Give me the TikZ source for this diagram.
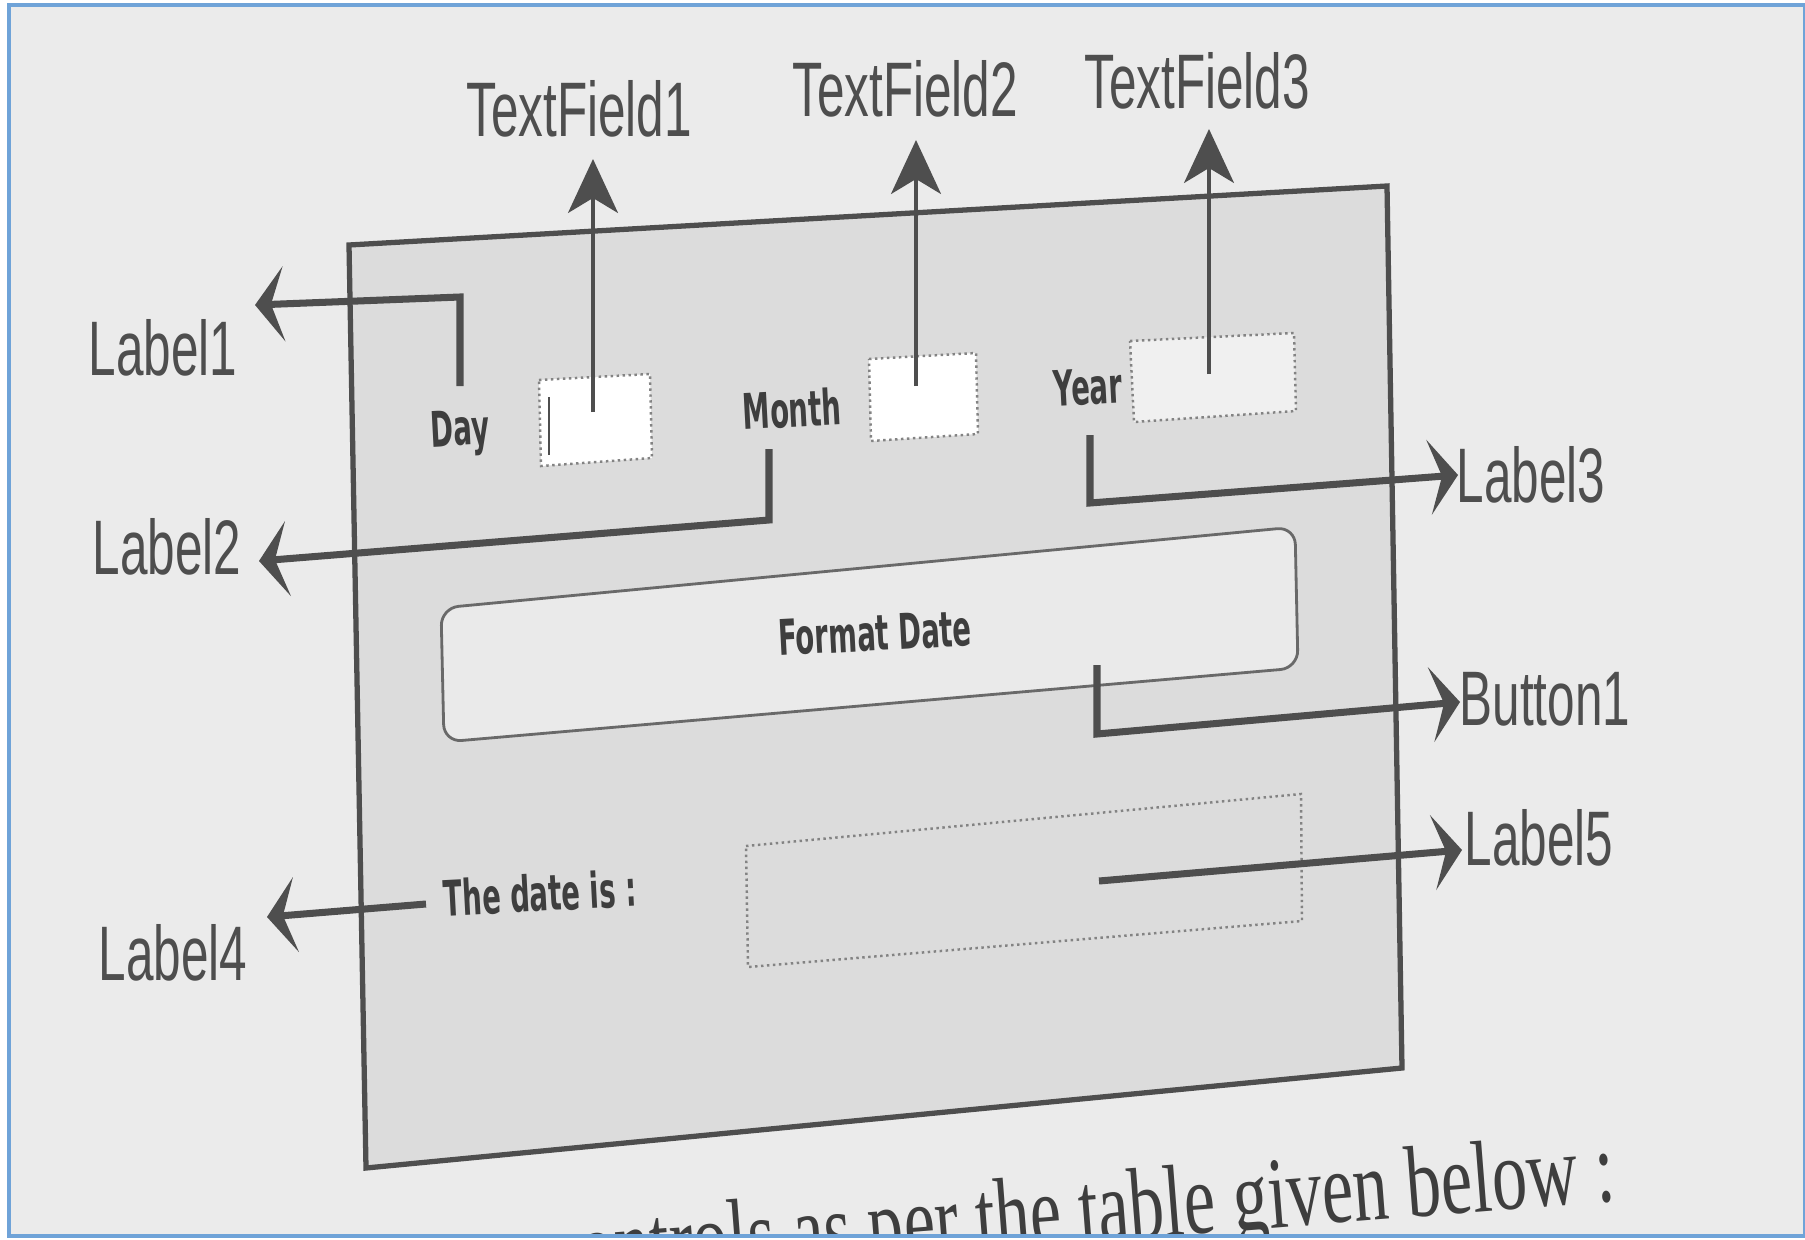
\documentclass[tikz,border=0pt]{standalone}
\usepackage{fontspec}
\usetikzlibrary{arrows.meta}

\newfontfamily\calloutfont[FakeStretch=0.64]{Liberation Sans}
\newfontfamily\formfont[FakeStretch=0.56]{DejaVu Sans}
\newfontfamily\bookfont[FakeStretch=0.69]{Liberation Serif}

\definecolor{paper}{HTML}{EBEBEB}
\definecolor{formgray}{HTML}{DCDCDC}
\definecolor{ink}{HTML}{4E4E4E}
\definecolor{edgeblue}{HTML}{6FA3D8}

\begin{document}
\begin{tikzpicture}[
    x=0.1mm,
    y=-0.1mm,
    callout/.style={font=\calloutfont\fontsize{22}{24}\selectfont, text=ink, inner sep=0pt},
    formtext/.style={font=\formfont\bfseries\fontsize{14}{16}\selectfont, text=ink!80!black, inner sep=0pt, rotate=3},
    field/.style={draw=ink!70, densely dotted, line width=0.7pt},
    bigarrow/.style={ink, line width=2pt, -{Stealth[length=2.9mm, width=7.5mm, inset=1.3mm]}},
    uparrow/.style={ink, line width=0.9pt, -{Stealth[length=5.4mm, width=5mm, inset=1.5mm]}}
]

% Page
\useasboundingbox[fill=white] (0,0) rectangle (1805,1240);
\fill[paper] (9,5) rectangle (1805,1236);
\begin{scope}
\clip (9,5) rectangle (1805,1236);

% Form window
\draw[ink, line width=1.5pt, fill=formgray] (349,245) -- (1387,186) -- (1402,1068) -- (366,1168) -- cycle;

% Text fields
\draw[field, fill=white] (539,380) -- (650,374) -- (652,458) -- (541,466) -- cycle;
\draw[ink, line width=0.8pt] (549,397) -- (549,455);
\draw[field, fill=white] (869,359) -- (976,353) -- (978,434) -- (871,441) -- cycle;
\draw[field, fill=white!94!black] (1130,341) -- (1294,333) -- (1296,411) -- (1134,422) -- cycle;

% Button
\draw[ink!85, line width=0.8pt, fill=formgray!60!white, rounded corners=5pt] (441,608) -- (1295,527) -- (1298,668) -- (444,742) -- cycle;

% Output area
\draw[field] (746,846) -- (1301,794) -- (1302,921) -- (748,967) -- cycle;

% Form texts
\node[formtext] (day) at (460,433) {Day};
\node[formtext] (month) at (792,409) {Month};
\node[formtext] (year) at (1088,387) {Year};
\node[formtext] (fmtdate) at (875,633) {Format Date};
\node[formtext, anchor=west] (dateis) at (443,898) {The date is :};

% Callouts
\node[callout] (label1) at (163,348) {Label1};
\node[callout] (label2) at (167,547) {Label2};
\node[callout] (label3) at (1531,475) {Label3};
\node[callout] (button1) at (1545,699) {Button1};
\node[callout] (label4) at (173,953) {Label4};
\node[callout] (label5) at (1539,838) {Label5};
\node[callout] (tfield1) at (579,109) {TextField1};
\node[callout] (tfield2) at (905,89) {TextField2};
\node[callout] (tfield3) at (1197,81) {TextField3};

% Arrow tips
\coordinate (tip1) at (255,305);
\coordinate (tip2) at (259,561);
\coordinate (tip3) at (1458,475);
\coordinate (tipb) at (1460,702);
\coordinate (tip4) at (267,917);
\coordinate (tip5) at (1462,850);
\coordinate (tiptf1) at (593,159);
\coordinate (tiptf2) at (916,140);
\coordinate (tiptf3) at (1209,129);

% Arrows
\draw[bigarrow] (460,386) -- (460,297) -- (tip1);
\draw[bigarrow] (769,449) -- (769,520) -- (tip2);
\draw[bigarrow] (1090,435) -- (1090,503) -- (tip3);
\draw[bigarrow] (1097,665) -- (1097,734) -- (tipb);
\draw[bigarrow] (426,904) -- (tip4);
\draw[bigarrow] (1099,881) -- (tip5);
\draw[uparrow] (593,412) -- (tiptf1);
\draw[uparrow] (916,386) -- (tiptf2);
\draw[uparrow] (1209,374) -- (tiptf3);

% Book text below
\node[font=\bookfont\fontsize{29}{31}\selectfont, text=ink!80!black, rotate=4.5, anchor=base east] (booktext) at (1629,1200) {controls as per the table given below :};
\end{scope}

% Frame
\draw[edgeblue, line width=1.2pt] (9,5) rectangle (1805,1236);

\end{tikzpicture}
\end{document}
